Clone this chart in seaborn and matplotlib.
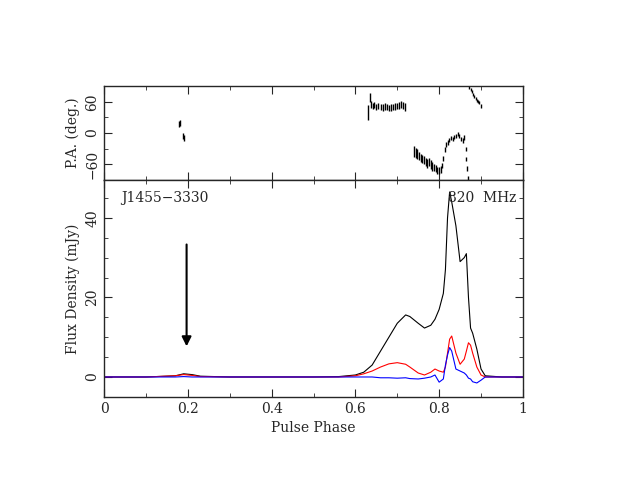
import numpy as np
import pandas as pd
import seaborn as sns
import matplotlib.pyplot as plt
from matplotlib.ticker import AutoMinorLocator, FuncFormatter

# --- profile data ---
phase = [0.0, 0.10, 0.17, 0.19, 0.21, 0.23, 0.30, 0.50, 0.56, 0.60, 0.62, 0.64, 0.66, 0.68,
         0.70, 0.72, 0.73, 0.75, 0.765, 0.78, 0.79, 0.80, 0.81, 0.815, 0.82, 0.825, 0.83,
         0.84, 0.85, 0.86, 0.865, 0.87, 0.875, 0.88, 0.89, 0.90, 0.91, 0.95, 1.0]
total = [0.0, 0.0, 0.3, 0.8, 0.6, 0.2, 0.0, 0.0, 0.1, 0.5, 1.2, 3.0, 6.5, 10.0,
         13.5, 15.6, 15.2, 13.5, 12.3, 13.0, 14.5, 17.0, 21.0, 27.0, 40.0, 46.5, 44.0,
         38.0, 29.0, 30.0, 31.0, 20.0, 12.3, 11.0, 7.0, 2.0, 0.3, 0.0, 0.0]
linear = [0.0, 0.0, 0.3, 0.6, 0.4, 0.1, 0.0, 0.0, 0.0, 0.3, 0.8, 1.5, 2.5, 3.3,
          3.6, 3.2, 2.5, 1.0, 0.5, 1.2, 2.0, 1.5, 1.2, 2.5, 6.0, 9.5, 10.3,
          6.0, 3.2, 4.5, 6.5, 8.6, 8.0, 6.0, 2.5, 0.5, 0.0, 0.0, 0.0]
circular = [0.0, 0.0, 0.0, 0.1, 0.0, 0.0, 0.0, 0.0, 0.0, 0.0, 0.0, 0.0, -0.2, -0.2,
            -0.3, -0.2, -0.4, -0.5, -0.3, 0.0, 0.5, -1.3, -0.5, 3.0, 5.5, 7.4, 6.5,
            2.0, 1.5, 1.0, 0.5, -0.3, -0.5, -1.2, -1.5, -0.8, 0.0, 0.0, 0.0]

# --- position angle data ---
pa_phase = [0.178, 0.181, 0.189, 0.191,
            0.631, 0.634, 0.637, 0.641, 0.645, 0.650, 0.655, 0.660, 0.665, 0.670, 0.675,
            0.680, 0.685, 0.690, 0.695, 0.700, 0.705, 0.710, 0.714, 0.718,
            0.740, 0.744, 0.748, 0.752, 0.756, 0.760, 0.764, 0.768, 0.772, 0.776,
            0.780, 0.784, 0.788, 0.792, 0.796, 0.800,
            0.804, 0.807, 0.810, 0.813, 0.816, 0.820, 0.824, 0.828, 0.832, 0.836,
            0.840, 0.844, 0.848, 0.852, 0.856, 0.860,
            0.863, 0.865, 0.867, 0.869,
            0.872, 0.875, 0.878, 0.881, 0.884, 0.887, 0.890, 0.893, 0.896, 0.899]
pa_deg = [18, 20, -5, -10,
          40, 68, 55, 52, 54, 50, 52, 50, 49, 51, 50,
          48, 49, 50, 51, 52, 53, 55, 53, 50,
          -35, -38, -40, -44, -48, -50, -52, -55, -58, -56,
          -60, -64, -66, -68, -72, -72,
          -70, -62, -48, -32, -22, -18, -14, -10, -12, -8,
          -5, -2, -6, -12, -14, -8,
          -30, -50, -68, -86,
          88, 84, 80, 74, 70, 66, 62, 60, 58, 52]
pa_err = [6, 6, 6, 6,
          14, 8, 7, 6, 6, 6, 6, 6, 6, 6, 6,
          6, 6, 6, 6, 6, 6, 6, 6, 7,
          10, 9, 9, 8, 8, 8, 8, 8, 8, 8,
          8, 8, 7, 7, 7, 7,
          6, 5, 5, 5, 4, 4, 4, 4, 4, 4,
          4, 4, 4, 4, 5, 5,
          4, 4, 4, 4,
          3, 3, 3, 3, 3, 3, 3, 3, 3, 4]

df = pd.DataFrame({"phase": phase, "I": total, "L": linear, "V": circular})
pa = pd.DataFrame({"phase": pa_phase, "pa": pa_deg, "err": pa_err})

sns.set_style("ticks")
plt.rcParams["font.family"] = ["DejaVu Serif"]
plt.rcParams["font.size"] = 10

fig = plt.figure(figsize=(6.27, 4.84), dpi=100)
ax_pa = fig.add_axes([0.166, 0.628, 0.668, 0.194])
ax = fig.add_axes([0.166, 0.180, 0.668, 0.448])

sns.lineplot(data=df, x="phase", y="I", color="black", lw=0.8, ax=ax)
sns.lineplot(data=df, x="phase", y="L", color="red", lw=0.8, ax=ax)
sns.lineplot(data=df, x="phase", y="V", color="blue", lw=0.8, ax=ax)
ax.annotate("", xy=(0.197, 7.0), xytext=(0.197, 34),
            arrowprops=dict(arrowstyle="-|>", color="black", lw=1.5, mutation_scale=14))
ax.text(0.04, 45, "J1455\u22123330", fontsize=10, va="center")
ax.text(0.82, 45, "820  MHz", fontsize=10, va="center")
ax.set_xlim(0, 1)
ax.set_ylim(-5, 49.5)
ax.set_xticks([0, 0.2, 0.4, 0.6, 0.8, 1.0])
ax.xaxis.set_major_formatter(FuncFormatter(lambda v, p: "%g" % v))
ax.set_yticks([0, 20, 40])
ax.set_xlabel("Pulse Phase")
ax.set_ylabel("Flux Density (mJy)")

ax_pa.errorbar(pa["phase"], pa["pa"], yerr=pa["err"], fmt="none", ecolor="black", elinewidth=1.0)
ax_pa.set_xlim(0, 1)
ax_pa.set_ylim(-90, 90)
ax_pa.set_yticks([-60, 0, 60])
ax_pa.set_xticks([0, 0.2, 0.4, 0.6, 0.8, 1.0])
ax_pa.set_xticklabels([])
ax_pa.set_ylabel("P.A. (deg.)")

for a in (ax, ax_pa):
    a.xaxis.set_minor_locator(AutoMinorLocator(2))
    a.yaxis.set_minor_locator(AutoMinorLocator(4 if a is ax else 2))
    a.tick_params(which="both", direction="in", top=True, right=True)
    a.tick_params(which="major", length=6)
    a.tick_params(which="minor", length=3)
    for lab in a.get_yticklabels():
        lab.set_rotation(90)
        lab.set_va("center")
    for s in a.spines.values():
        s.set_linewidth(1.0)

fig.savefig("out.png", dpi=100)
